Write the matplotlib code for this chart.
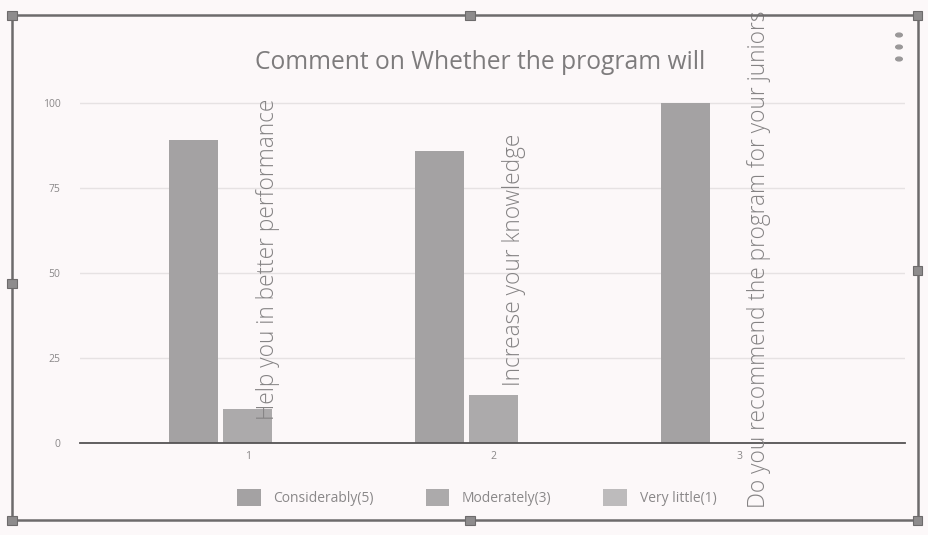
import matplotlib
matplotlib.use("Agg")
import matplotlib.pyplot as plt
from matplotlib.patches import Rectangle, Circle
import numpy as np

plt.rcParams['font.family'] = ['Open Sans', 'DejaVu Sans']

categories = [1, 2, 3]
series_names = ["Considerably(5)", "Moderately(3)", "Very little(1)"]
considerably = [89, 86, 100]
moderately = [10, 14, 0]
very_little = [0, 0, 0]
question_labels = ["Help you in better performance",
                   "Increase your knowledge",
                   "Do you recommend the program for your juniors"]
y_ticks = [0, 25, 50, 75, 100]
title = "Comment on Whether the program will"

bg = "#fcf8f9"
colors = ["#a4a2a3", "#acaaab", "#bdbbbc"]

fig = plt.figure(figsize=(9.29, 5.35), dpi=100, facecolor=bg)
ax = fig.add_axes([0.086, 0.172, 0.888, 0.661], facecolor=bg)

x = np.array(categories, dtype=float)
w = 0.2
offs = [-0.22, 0.0, 0.22]
for vals, off, c, name in zip([considerably, moderately, very_little], offs, colors, series_names):
    ax.bar(x + off, vals, width=w, color=c, label=name, zorder=2)

for xi, lab in zip(x, question_labels):
    ax.text(xi + 0.08, 54, lab, rotation=90, ha='center', va='center',
            fontsize=16.3, color='#858384', fontweight='light', zorder=3)

ax.set_xlim(0.317, 3.671)
ax.set_ylim(0, 104)
ax.set_yticks(y_ticks)
ax.set_xticks(categories)
ax.set_xticklabels([str(c) for c in categories])
ax.tick_params(axis='both', length=0, labelsize=7.5, colors='#8a8889', pad=14)
ax.tick_params(axis='x', pad=6)
ax.grid(axis='y', color='#e6e2e3', linewidth=1, zorder=0)
for s in ['top', 'right', 'left']:
    ax.spines[s].set_visible(False)
ax.spines['bottom'].set_color('#555354')
ax.spines['bottom'].set_linewidth(1.3)

fig.text(0.517, 0.884, title, ha='center', va='center', fontsize=17.7, color='#7e7c7d')

handles, labels = ax.get_legend_handles_labels()
fig.legend(handles, labels, loc='center', bbox_to_anchor=(0.513, 0.07), ncol=3,
           frameon=False, fontsize=10, handlelength=1.7, handleheight=1.45,
           handletextpad=0.9, columnspacing=3.75, labelcolor='#8a8889')

# outer selection frame of chart object
W, H = 929, 535
def fx(px): return px / W
def fy(py): return 1 - py / H
frame = Rectangle((fx(12), fy(520)), fx(918) - fx(12), fy(15) - fy(520),
                  transform=fig.transFigure, fill=False, edgecolor='#6d6b6c', linewidth=1.8)
fig.add_artist(frame)
hs = 9
for (hx, hy) in [(12, 15), (470, 15), (918, 15), (12, 283), (918, 270), (12, 520), (470, 520), (918, 520)]:
    fig.add_artist(Rectangle((fx(hx - hs / 2), fy(hy + hs / 2)), hs / W, hs / H,
                             transform=fig.transFigure, facecolor='#8e8c8d', edgecolor='#6d6b6c', lw=0.8))
for dy in [35, 47, 59]:
    fig.add_artist(Circle((fx(899), fy(dy)), 3.3 / W, transform=fig.transFigure, color='#9a9899'))

fig.savefig("out.png", dpi=100, facecolor=bg)
